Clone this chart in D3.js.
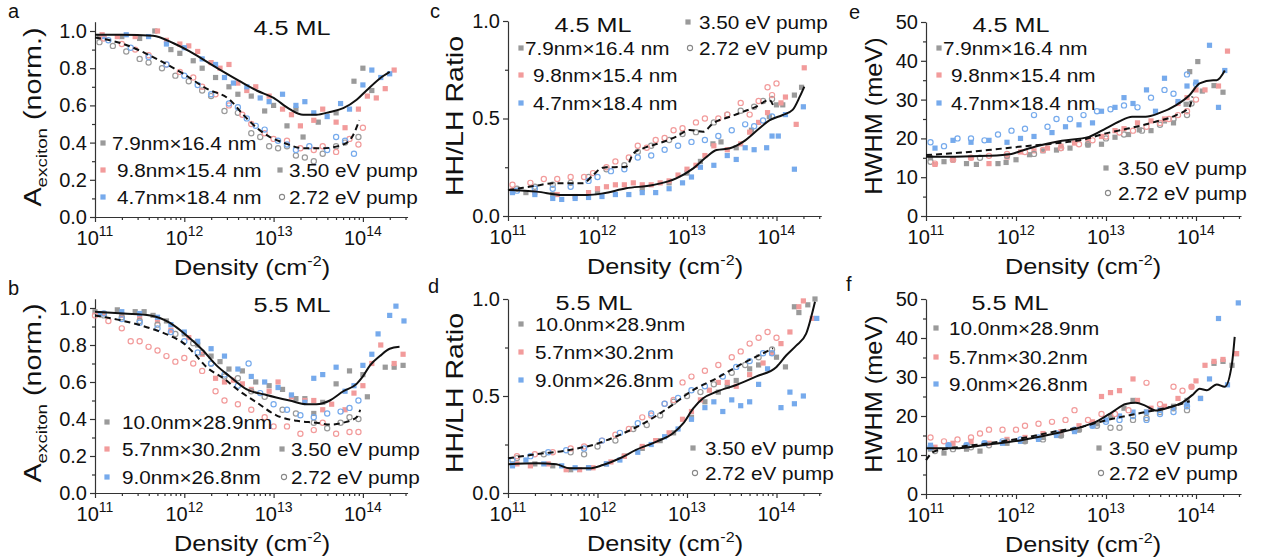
<!DOCTYPE html>
<html>
<head>
<meta charset="utf-8">
<script src="https://cdn.jsdelivr.net/npm/d3@7"></script>
<style>
  body { margin: 0; background: #fff; }
  svg { display: block; font-family: "Liberation Sans", Arial, sans-serif; }
</style>
</head>
<body>
<svg id="chart" width="1264" height="560"></svg>
<script>

// ---- a : 4.5 ML, A_exciton
const aGreySq = [[11.05,.97],[11.3,.97],[11.5,.96],[11.67,1.0],[11.85,.90],[11.95,.88],[12.1,.84],[12.2,.80],[12.35,.75],[12.5,.70],[12.6,.66],[12.75,.65],[12.9,.57],[13.0,.60],[13.15,.49],[13.25,.58],[13.33,.43],[13.5,.51],[13.7,.56],[13.9,.73],[14.0,.80],[14.1,.68]];
const aRedSq = [[11.08,.98],[11.25,.97],[11.45,.97],[11.7,1.0],[11.8,.95],[11.95,.93],[12.05,.92],[12.15,.89],[12.3,.83],[12.4,.80],[12.5,.82],[12.6,.72],[12.7,.68],[12.8,.70],[12.95,.65],[13.1,.58],[13.2,.55],[13.3,.49],[13.45,.52],[13.55,.58],[13.7,.51],[13.8,.48],[13.95,.58],[14.05,.65],[14.15,.64],[14.25,.69],[14.35,.79]];
const aBlueSq = [[11.1,.97],[11.35,.98],[11.6,.97],[11.8,.93],[12.0,.91],[12.2,.85],[12.35,.82],[12.45,.75],[12.55,.72],[12.7,.70],[12.85,.64],[12.95,.62],[13.1,.66],[13.25,.60],[13.35,.62],[13.45,.56],[13.6,.54],[13.75,.61],[13.85,.58],[14.0,.71],[14.1,.79],[14.2,.75],[14.3,.77]];
const aGreyCi = [[11.05,.94],[11.2,.92],[11.35,.89],[11.5,.85],[11.6,.83],[11.75,.80],[11.9,.76],[12.05,.73],[12.2,.68],[12.3,.65],[12.45,.57],[12.6,.56],[12.75,.45],[12.85,.43],[12.95,.38],[13.05,.37],[13.15,.38],[13.25,.33],[13.35,.32],[13.45,.30],[13.55,.34],[13.7,.38],[13.8,.40],[13.95,.43]];
const aRedCi = [[11.1,.96],[11.3,.93],[11.45,.90],[11.6,.87],[11.8,.82],[11.95,.78],[12.1,.75],[12.2,.70],[12.35,.66],[12.5,.60],[12.65,.55],[12.75,.50],[12.9,.45],[13.0,.42],[13.15,.41],[13.3,.37],[13.45,.36],[13.55,.38],[13.7,.35],[13.85,.42],[13.95,.39],[14.0,.48]];
const aBlueCi = [[11.15,.95],[11.4,.91],[11.6,.86],[11.8,.82],[12.0,.76],[12.15,.71],[12.3,.66],[12.5,.61],[12.6,.59],[12.7,.53],[12.8,.49],[12.9,.47],[13.05,.41],[13.15,.39],[13.25,.36],[13.4,.38],[13.6,.36],[13.7,.43],[13.8,.41],[13.9,.34]];
const aSolid = [[11,.98],[11.3,.98],[11.65,.975],[11.88,.934],[12.06,.89],[12.25,.835],[12.44,.78],[12.62,.73],[12.81,.68],[13.0,.64],[13.18,.58],[13.33,.55],[13.48,.55],[13.63,.565],[13.78,.585],[13.93,.63],[14.04,.68],[14.19,.745],[14.3,.78]];
const aDashed = [[11,.965],[11.32,.93],[11.69,.85],[11.99,.77],[12.25,.69],[12.51,.63],[12.66,.55],[12.81,.48],[12.96,.43],[13.11,.40],[13.33,.37],[13.56,.37],[13.78,.39],[13.89,.44],[13.96,.52]];

// ---- b : 5.5 ML, A_exciton
const bGreySq = [[11.0,.98],[11.25,.99],[11.45,.98],[11.55,.98],[11.65,.96],[11.8,.93],[12.0,.86],[12.15,.80],[12.3,.74],[12.4,.71],[12.5,.67],[12.65,.66],[12.8,.60],[12.95,.58],[13.1,.56],[13.25,.51],[13.35,.51],[13.45,.43],[13.55,.49],[13.7,.59],[13.85,.66],[14.0,.64],[14.05,.52],[14.25,.68],[14.35,.68],[14.45,.69]];
const bRedSq = [[11.1,.97],[11.3,.96],[11.5,.95],[11.7,.93],[11.85,.88],[12.05,.84],[12.2,.75],[12.35,.62],[12.45,.60],[12.55,.61],[12.65,.59],[12.75,.56],[12.95,.55],[13.05,.60],[13.2,.52],[13.35,.50],[13.45,.50],[13.55,.45],[13.65,.48],[13.8,.45],[13.9,.54],[14.0,.58],[14.1,.70],[14.2,.80],[14.35,.70],[14.45,.75]];
const bBlueSq = [[11.05,.97],[11.3,.98],[11.5,.97],[11.7,.95],[11.85,.91],[12.0,.87],[12.15,.82],[12.3,.78],[12.45,.74],[12.6,.67],[12.75,.63],[12.9,.60],[13.05,.57],[13.2,.53],[13.35,.49],[13.45,.62],[13.55,.64],[13.7,.68],[13.8,.55],[13.9,.58],[14.0,.69],[14.1,.75],[14.17,.86],[14.3,.96],[14.37,1.01],[14.46,.93]];
const bGreyCi = [[11.1,.96],[11.3,.95],[11.5,.93],[11.7,.91],[11.9,.86],[12.1,.81],[12.2,.76],[12.3,.70],[12.45,.63],[12.6,.62],[12.75,.55],[12.9,.52],[13.1,.45],[13.25,.43],[13.45,.38],[13.6,.35],[13.75,.38],[13.85,.41],[13.95,.40]];
const bRedCi = [[11.0,.96],[11.15,.93],[11.3,.89],[11.4,.82],[11.5,.82],[11.6,.79],[11.7,.77],[11.8,.74],[11.9,.71],[12.0,.73],[12.1,.70],[12.2,.66],[12.35,.55],[12.45,.50],[12.6,.48],[12.75,.45],[12.9,.41],[13.0,.36],[13.15,.36],[13.3,.32],[13.45,.34],[13.55,.38],[13.7,.32],[13.85,.33],[13.95,.33]];
const bBlueCi = [[11.1,.97],[11.3,.94],[11.5,.92],[11.7,.89],[11.85,.87],[12.0,.82],[12.15,.76],[12.3,.70],[12.45,.64],[12.6,.58],[12.72,.70],[12.85,.54],[13.0,.48],[13.15,.45],[13.3,.42],[13.45,.41],[13.6,.43],[13.75,.44],[13.85,.46],[13.95,.50]];
const bSolid = [[11,.98],[11.32,.97],[11.62,.96],[11.84,.92],[12.03,.85],[12.21,.77],[12.36,.69],[12.51,.63],[12.7,.56],[12.92,.53],[13.18,.50],[13.37,.48],[13.48,.48],[13.63,.50],[13.78,.55],[13.93,.59],[14.0,.63],[14.08,.69],[14.19,.74],[14.3,.78],[14.41,.79]];
const bDashed = [[11,.96],[11.32,.93],[11.62,.89],[11.84,.85],[11.99,.81],[12.1,.76],[12.25,.68],[12.44,.62],[12.62,.55],[12.81,.49],[13.03,.42],[13.26,.39],[13.48,.38],[13.63,.37],[13.78,.38],[13.93,.41],[13.97,.45]];

// ---- c : 4.5 ML, HH/LH ratio
const cGreySq = [[11.05,.13],[11.2,.12],[11.5,.11],[12.0,.12],[12.5,.14],[12.8,.17],[13.0,.22],[13.15,.28],[13.29,.37],[13.38,.38],[13.55,.35],[13.72,.44],[13.92,.51],[14.0,.57],[14.07,.57],[14.2,.62],[14.28,.66]];
const cRedSq = [[11.05,.13],[11.3,.12],[11.55,.11],[11.75,.10],[11.9,.12],[12.0,.14],[12.1,.15],[12.2,.16],[12.3,.16],[12.4,.17],[12.5,.16],[12.6,.16],[12.7,.17],[12.8,.18],[12.9,.21],[13.0,.24],[13.1,.26],[13.2,.31],[13.3,.36],[13.45,.34],[13.6,.37],[13.7,.43],[13.8,.48],[13.9,.53],[14.05,.58],[14.1,.61],[14.22,.47],[14.31,.76]];
const cBlueSq = [[11.05,.12],[11.3,.11],[11.5,.09],[11.6,.085],[11.75,.09],[11.9,.095],[12.05,.10],[12.2,.11],[12.35,.11],[12.5,.12],[12.65,.12],[12.8,.14],[12.95,.17],[13.05,.20],[13.15,.25],[13.3,.26],[13.45,.31],[13.55,.29],[13.65,.35],[13.75,.34],[13.89,.35],[13.95,.41],[14.02,.41],[14.1,.52],[14.2,.24],[14.3,.56]];
const cGreyCi = [[11.1,.14],[11.3,.15],[11.5,.16],[11.7,.17],[11.9,.20],[12.1,.24],[12.3,.26],[12.45,.33],[12.6,.36],[12.8,.39],[12.95,.42],[13.1,.43],[13.3,.48],[13.45,.52],[13.6,.54],[13.75,.56],[13.85,.59],[13.95,.60]];
const cRedCi = [[11.05,.16],[11.25,.17],[11.4,.19],[11.55,.19],[11.7,.20],[11.85,.20],[11.95,.22],[12.1,.25],[12.2,.28],[12.35,.30],[12.45,.36],[12.55,.35],[12.65,.39],[12.75,.40],[12.85,.44],[12.95,.45],[13.1,.48],[13.2,.50],[13.35,.50],[13.45,.52],[13.6,.58],[13.7,.52],[13.8,.59],[13.9,.66],[13.95,.62],[14.0,.68]];
const cBlueCi = [[11.1,.13],[11.3,.14],[11.5,.14],[11.7,.15],[11.9,.18],[12.0,.20],[12.15,.23],[12.3,.24],[12.45,.30],[12.6,.31],[12.75,.34],[12.9,.36],[13.05,.38],[13.2,.39],[13.35,.41],[13.5,.44],[13.65,.47],[13.75,.46],[13.85,.49],[13.95,.51]];
const cSolid = [[11.0,.133],[11.32,.125],[11.61,.108],[11.88,.108],[12.06,.116],[12.32,.142],[12.62,.159],[12.88,.193],[13.07,.244],[13.22,.304],[13.33,.338],[13.48,.347],[13.63,.381],[13.81,.45],[13.92,.49],[14.07,.518],[14.18,.544],[14.26,.612],[14.31,.663]];
const cDashed = [[11.0,.133],[11.17,.145],[11.32,.156],[11.5,.168],[11.84,.168],[11.95,.21],[12.06,.248],[12.32,.253],[12.4,.32],[12.51,.347],[12.69,.373],[12.88,.407],[13.03,.441],[13.18,.432],[13.29,.475],[13.48,.509],[13.63,.535],[13.77,.56],[13.92,.595],[13.96,.57]];

// ---- d : 5.5 ML, HH/LH ratio
const dGreySq = [[11.05,.15],[11.3,.15],[11.5,.14],[11.7,.12],[11.9,.13],[12.1,.15],[12.3,.19],[12.5,.23],[12.7,.27],[12.85,.31],[13.05,.39],[13.2,.47],[13.35,.52],[13.45,.55],[13.55,.58],[13.7,.64],[13.8,.66],[14.0,.70],[14.1,.65],[14.2,.96],[14.25,.93],[14.35,.97],[14.43,1.0]];
const dRedSq = [[11.1,.15],[11.25,.14],[11.45,.15],[11.65,.12],[11.8,.12],[11.95,.13],[12.15,.16],[12.3,.19],[12.5,.24],[12.65,.27],[12.8,.31],[12.95,.38],[13.05,.42],[13.15,.48],[13.25,.53],[13.35,.57],[13.45,.57],[13.55,.55],[13.7,.61],[13.85,.67],[13.95,.72],[14.05,.77],[14.15,.83],[14.25,.96],[14.3,.99],[14.4,.90]];
const dBlueSq = [[11.05,.14],[11.2,.17],[11.4,.15],[11.6,.14],[11.75,.13],[11.9,.13],[12.1,.15],[12.25,.17],[12.45,.21],[12.6,.25],[12.75,.29],[12.9,.33],[13.05,.38],[13.2,.44],[13.3,.47],[13.4,.42],[13.5,.48],[13.6,.45],[13.7,.47],[13.8,.56],[13.9,.64],[14.05,.44],[14.15,.52],[14.2,.46],[14.3,.50],[14.45,.90]];
const dGreyCi = [[11.1,.18],[11.4,.20],[11.7,.21],[11.85,.20],[12.0,.24],[12.2,.27],[12.4,.33],[12.55,.35],[12.7,.40],[12.85,.47],[13.0,.50],[13.15,.52],[13.3,.56],[13.5,.62],[13.65,.66],[13.8,.70],[13.95,.74]];
const dRedCi = [[11.1,.19],[11.3,.20],[11.5,.21],[11.7,.23],[11.85,.24],[12.05,.27],[12.2,.30],[12.35,.33],[12.5,.39],[12.6,.40],[12.75,.46],[12.85,.48],[12.95,.57],[13.05,.60],[13.2,.63],[13.35,.66],[13.5,.70],[13.6,.73],[13.7,.77],[13.8,.80],[13.9,.83],[14.0,.80]];
const dBlueCi = [[11.05,.17],[11.25,.19],[11.45,.21],[11.65,.22],[11.85,.23],[12.05,.27],[12.25,.31],[12.45,.36],[12.6,.41],[12.75,.46],[12.9,.49],[13.05,.53],[13.2,.55],[13.4,.60],[13.55,.65],[13.7,.68],[13.85,.72],[13.95,.72]];
const dSolid = [[11.0,.148],[11.32,.153],[11.54,.148],[11.69,.127],[11.91,.127],[12.06,.144],[12.25,.179],[12.43,.222],[12.66,.265],[12.84,.307],[12.96,.36],[13.07,.436],[13.18,.488],[13.33,.522],[13.55,.557],[13.77,.60],[14.0,.65],[14.11,.71],[14.22,.76],[14.33,.82],[14.43,.986]];
const dDashed = [[11.0,.179],[11.32,.20],[11.69,.222],[11.95,.248],[12.25,.30],[12.55,.368],[12.81,.445],[13.07,.531],[13.33,.591],[13.59,.66],[13.81,.711],[13.96,.746]];

// ---- e : 4.5 ML, HWHM
const eGreySq = [[11.05,15.0],[11.2,14.0],[11.45,13.5],[11.56,13.3],[11.8,13.5],[11.89,13.8],[12.0,14.5],[12.15,15.8],[12.3,16.8],[12.45,17.0],[12.6,17.5],[12.8,18.3],[12.95,18.5],[13.1,20.3],[13.25,21.0],[13.37,22.2],[13.5,22.0],[13.65,24.5],[13.75,24.0],[13.89,28.8],[13.93,37.2],[14.02,39.8],[14.07,32.2],[14.2,33.6],[14.3,31.9]];
const eRedSq = [[11.1,13.3],[11.3,14.5],[11.5,15.0],[11.7,13.5],[11.9,15.2],[12.05,16.5],[12.2,16.8],[12.35,17.5],[12.5,18.0],[12.65,18.8],[12.8,19.5],[12.95,20.5],[13.1,22.0],[13.2,22.5],[13.35,24.0],[13.5,24.5],[13.65,25.0],[13.8,29.0],[13.9,30.5],[14.0,32.5],[14.1,32.5],[14.25,33.5],[14.35,42.5]];
const eBlueSq = [[11.1,17.5],[11.3,19.5],[11.5,19.0],[11.7,19.5],[11.9,19.0],[12.05,20.0],[12.2,20.5],[12.4,21.5],[12.55,23.0],[12.7,23.5],[12.85,24.0],[12.95,27.0],[13.1,28.0],[13.2,30.5],[13.3,29.0],[13.45,32.5],[13.55,27.0],[13.65,35.5],[13.8,29.5],[13.9,33.5],[14.0,34.5],[14.15,44.0],[14.25,28.0],[14.32,37.5]];
const eGreyCi = [[11.05,14.0],[11.3,14.5],[11.6,15.0],[11.9,15.5],[12.2,16.0],[12.5,17.5],[12.8,18.5],[13.0,20.0],[13.2,21.0],[13.4,22.0],[13.6,23.5],[13.75,25.0],[13.9,26.0],[13.95,29.0]];
const eRedCi = [[11.1,13.5],[11.3,14.5],[11.5,15.0],[11.7,15.5],[11.9,16.0],[12.1,16.5],[12.3,17.0],[12.5,17.5],[12.7,18.5],[12.85,19.5],[13.0,20.5],[13.15,21.5],[13.3,22.0],[13.45,23.0],[13.6,24.0],[13.7,25.0],[13.8,26.0],[13.9,27.0],[14.0,30.0]];
const eBlueCi = [[11.05,19.0],[11.2,18.0],[11.35,20.0],[11.5,20.0],[11.65,19.5],[11.8,21.0],[11.95,22.0],[12.1,22.5],[12.2,26.0],[12.35,23.0],[12.45,25.0],[12.6,25.0],[12.75,26.0],[12.9,27.0],[13.05,27.5],[13.2,28.5],[13.35,28.0],[13.5,30.5],[13.65,32.5],[13.75,31.5],[13.9,36.5],[14.0,34.0]];
const eSolid = [[11.0,15.3],[11.32,15.3],[11.69,15.5],[11.95,16.0],[12.06,16.8],[12.25,18.1],[12.51,19.4],[12.81,20.4],[13.0,22.6],[13.14,24.3],[13.29,25.6],[13.44,25.6],[13.59,26.5],[13.78,28.6],[13.93,31.2],[14.04,34.2],[14.19,35.0],[14.23,35.0],[14.32,37.5]];
const eDashed = [[11.0,15.7],[11.32,16.2],[11.69,17.0],[12.06,17.9],[12.43,18.7],[12.73,19.6],[13.0,21.3],[13.26,22.6],[13.55,24.3],[13.78,26.0],[13.93,28.2],[13.96,30.8]];

// ---- f : 5.5 ML, HWHM
const fGreySq = [[11.05,11.5],[11.2,10.5],[11.45,11.5],[11.6,11.0],[11.9,13.0],[12.1,13.5],[12.3,14.5],[12.5,15.0],[12.7,16.5],[12.9,18.0],[13.05,20.0],[13.2,22.0],[13.3,24.0],[13.45,21.0],[13.6,21.5],[13.75,22.5],[13.9,24.0],[14.05,24.5],[14.2,33.5],[14.3,34.0],[14.4,33.0],[14.45,36.0]];
const fRedSq = [[11.1,12.0],[11.3,13.0],[11.5,13.5],[11.7,13.0],[11.9,14.0],[12.1,14.5],[12.3,15.5],[12.5,16.0],[12.7,17.5],[12.85,18.5],[12.95,25.0],[13.05,26.0],[13.15,26.5],[13.3,29.5],[13.35,24.0],[13.5,22.0],[13.65,22.5],[13.8,24.5],[13.95,27.5],[14.0,29.0],[14.1,33.0],[14.2,34.0],[14.3,34.5],[14.45,36.0]];
const fBlueSq = [[11.05,12.5],[11.25,12.5],[11.45,12.5],[11.65,13.0],[11.85,13.0],[12.05,13.5],[12.25,14.0],[12.45,15.0],[12.65,16.0],[12.85,17.5],[13.0,19.0],[13.15,20.0],[13.3,21.0],[13.45,21.0],[13.6,21.5],[13.75,22.0],[13.9,23.0],[14.05,24.5],[14.15,29.5],[14.25,45.0],[14.35,28.0],[14.47,49.0]];
const fGreyCi = [[11.1,11.0],[11.3,11.5],[11.5,12.0],[11.7,12.5],[11.9,13.5],[12.1,13.5],[12.3,14.0],[12.5,15.0],[12.7,16.5],[12.9,17.5],[13.05,17.0],[13.15,17.0],[13.3,19.0],[13.45,19.5],[13.6,21.0],[13.75,22.0],[13.9,21.5]];
const fRedCi = [[11.05,14.5],[11.2,13.5],[11.35,14.0],[11.5,14.5],[11.6,15.5],[11.7,16.5],[11.85,16.5],[12.0,16.5],[12.1,17.5],[12.25,18.0],[12.4,18.5],[12.55,19.0],[12.65,21.5],[12.8,19.0],[12.95,20.5],[13.1,20.5],[13.25,21.5],[13.45,28.5],[13.6,23.0],[13.75,27.5],[13.85,26.5],[13.95,27.5]];
const fBlueCi = [[11.05,12.0],[11.25,12.5],[11.45,12.5],[11.65,13.0],[11.85,13.5],[12.05,14.0],[12.25,14.5],[12.45,15.5],[12.65,16.5],[12.85,17.5],[13.0,18.5],[13.15,19.0],[13.3,20.0],[13.45,19.0],[13.6,20.5],[13.75,21.0],[13.9,22.5]];
const fSolid = [[11.0,11.7],[11.32,11.7],[11.69,12.7],[12.06,13.8],[12.43,15.5],[12.73,17.2],[12.92,18.9],[13.07,21.0],[13.22,23.1],[13.33,23.4],[13.44,22.6],[13.55,21.4],[13.7,22.2],[13.85,23.5],[13.97,25.6],[14.04,27.0],[14.12,26.6],[14.23,28.1],[14.32,27.5],[14.4,33.5],[14.43,40.3]];
const fDashed = [[11.0,8.7],[11.09,10.9],[11.32,11.9],[11.69,13.0],[12.06,14.3],[12.43,16.0],[12.73,17.2],[13.0,18.9],[13.26,20.2],[13.55,21.5],[13.78,22.7],[13.93,23.8]];

// legend texts
const samples45 = ["7.9nm\u00d716.4 nm", "9.8nm\u00d715.4 nm", "4.7nm\u00d718.4 nm"];
const samples55 = ["10.0nm\u00d728.9nm", "5.7nm\u00d730.2nm", "9.0nm\u00d726.8nm"];
const pumps = ["3.50 eV pump", "2.72 eV pump"];
const xMajor = [1e11, 1e12, 1e13, 1e14];

const grey = '#9a9a9a', red = '#f29b9b', blue = '#76aaec';
const colors = [grey, red, blue];

const svg = d3.select('#chart');
svg.append('rect').attr('width', 1264).attr('height', 560).attr('fill', '#fff');

// text that is a bit wider than Arial, like in the figure
const label = (g, x, y, size, sx, anchor, rot) => g.append('text')
  .attr('transform', `translate(${x},${y})` + (rot ? ` rotate(${rot})` : '') + ` scale(${sx},1)`)
  .attr('font-size', size)
  .attr('text-anchor', anchor || 'start')
  .attr('fill', '#111');

const drawPanel = (p) => {
  const x = d3.scaleLog().domain([1e11, Math.pow(10, 14.5)]).range([p.x0, p.x0 + 3.5 * p.dec]);
  const y = d3.scaleLinear().domain([0, p.yMax]).range([p.yBot, p.yBot - p.yMax * p.unit]);
  const g = svg.append('g');

  const xMinor = [];
  for (let e = 11; e <= 14; e++) for (let k = 2; k <= 9; k++) if (k * Math.pow(10, e) <= Math.pow(10, 14.5)) xMinor.push(k * Math.pow(10, e));

  const styleAxis = sel => {
    sel.selectAll('path,line').attr('stroke', '#333').attr('stroke-width', 1.2);
    sel.attr('font-family', null).attr('font-size', 20);
    sel.selectAll('text').attr('fill', '#111');
  };

  g.append('g').attr('transform', `translate(0,${p.yBot})`)
    .call(d3.axisBottom(x).tickValues(xMinor).tickSize(3).tickFormat(''))
    .call(styleAxis).select('.domain').remove();
  g.append('g').attr('transform', `translate(0,${p.yBot})`)
    .call(d3.axisBottom(x).tickValues(xMajor).tickSize(5).tickSizeOuter(0).tickFormat(''))
    .call(styleAxis);

  xMajor.forEach(v => {
    const t = g.append('text').attr('x', x(v)).attr('y', p.yBot + 28)
      .attr('text-anchor', 'middle').attr('font-size', 20).attr('fill', '#111');
    t.append('tspan').text('10');
    t.append('tspan').attr('dy', -9).attr('font-size', 14).text(Math.round(Math.log10(v)));
  });

  g.append('g').attr('transform', `translate(${p.x0},0)`)
    .call(d3.axisLeft(y).tickValues(p.yMinor).tickSize(3).tickFormat(''))
    .call(styleAxis).select('.domain').remove();
  g.append('g').attr('transform', `translate(${p.x0},0)`)
    .call(d3.axisLeft(y).tickValues(p.yMajor).tickSize(5).tickSizeOuter(0).tickFormat(p.fmt))
    .call(styleAxis)
    .selectAll('text').attr('x', -8);

  // axis titles
  const xt = label(g, p.x0 + 157, p.yBot + 58, 22, 1.15, 'middle');
  xt.append('tspan').text('Density (cm');
  xt.append('tspan').attr('dy', -9).attr('font-size', 14).text('-2');
  xt.append('tspan').attr('dy', 9).text(')');

  const yt = label(g, p.yTitleX, p.yBot - 100, 23, p.yTitleSx, 'middle', -90);
  if (p.exciton) {
    yt.append('tspan').text('A');
    yt.append('tspan').attr('dy', 6).attr('font-size', 15).text('exciton');
    yt.append('tspan').attr('dy', -6).text(' (norm.)');
  } else {
    yt.text(p.yTitle);
  }

  label(g, p.letter[0], p.letter[1], 20, 1, 'start').text(p.id);
  label(g, p.titleX, p.titleY, 21, 1.2, 'middle').text(p.title);

  // scatter: squares = 3.50 eV pump, open circles = 2.72 eV pump
  p.squares.forEach((arr, i) => {
    g.append('g').selectAll('rect').data(arr).join('rect')
      .attr('x', d => x(Math.pow(10, d[0])) - 2.6)
      .attr('y', d => y(d[1]) - 2.6)
      .attr('width', 5.2).attr('height', 5.2)
      .attr('fill', colors[i]);
  });
  p.circles.forEach((arr, i) => {
    g.append('g').selectAll('circle').data(arr).join('circle')
      .attr('cx', d => x(Math.pow(10, d[0])))
      .attr('cy', d => y(d[1]))
      .attr('r', 2.6)
      .attr('fill', 'none')
      .attr('stroke', colors[i])
      .attr('stroke-width', 1.2);
  });

  const line = d3.line()
    .x(d => x(Math.pow(10, d[0])))
    .y(d => y(d[1]))
    .curve(d3.curveMonotoneX);
  g.append('path').attr('d', line(p.solid)).attr('fill', 'none')
    .attr('stroke', '#111').attr('stroke-width', 2);
  g.append('path').attr('d', line(p.dashed)).attr('fill', 'none')
    .attr('stroke', '#111').attr('stroke-width', 2).attr('stroke-dasharray', '6,4');

  // legends
  p.samples.forEach((s, i) => {
    const [sx, sy, tx] = p.sampleLeg[i];
    g.append('rect').attr('x', sx - 2.6).attr('y', sy - 2.6).attr('width', 5.2).attr('height', 5.2).attr('fill', colors[i]);
    label(g, tx, sy + 6.5, 19, 1.09).text(s);
  });
  const [px, py, ptx] = p.pumpLeg;
  g.append('rect').attr('x', px - 2.6).attr('y', py - 2.6).attr('width', 5.2).attr('height', 5.2).attr('fill', grey);
  label(g, ptx, py + 6.5, 19, 1.09).text(pumps[0]);
  g.append('circle').attr('cx', px + 2).attr('cy', py + p.pumpGap).attr('r', 2.6)
    .attr('fill', 'none').attr('stroke', '#888').attr('stroke-width', 1.1);
  label(g, ptx, py + p.pumpGap + 6.5, 19, 1.09).text(pumps[1]);
};

const fmt1 = d3.format('.1f');
const fmt0 = d3.format('d');
const ticksA = { yMax: 1.05, yMajor: [0, .2, .4, .6, .8, 1.0], yMinor: [.1, .3, .5, .7, .9], fmt: fmt1, exciton: true, yTitleSx: 1.25 };
const ticksR = { yMax: 1.0, yMajor: [0, .5, 1.0], yMinor: [.25, .75], fmt: fmt1, yTitle: 'HH/LH Ratio', yTitleSx: 1.24 };
const ticksW = { yMax: 50, yMajor: [0, 10, 20, 30, 40, 50], yMinor: [5, 15, 25, 35, 45], fmt: fmt0, yTitle: 'HWHM (meV)', yTitleSx: 1.1 };

const panels = [
  Object.assign({ id: 'a', x0: 95, dec: 89.3, yBot: 217, unit: 186, yTitleX: 41, letter: [8, 18], title: '4.5 ML', titleX: 292, titleY: 35,
    squares: [aGreySq, aRedSq, aBlueSq], circles: [aGreyCi, aRedCi, aBlueCi], solid: aSolid, dashed: aDashed,
    samples: samples45, sampleLeg: [[103, 143, 112], [103, 170, 117], [103, 197, 117]], pumpLeg: [280, 170, 289], pumpGap: 27 }, ticksA),
  Object.assign({ id: 'b', x0: 95, dec: 89.3, yBot: 493, unit: 185, yTitleX: 41, letter: [8, 295], title: '5.5 ML', titleX: 292, titleY: 312,
    squares: [bGreySq, bRedSq, bBlueSq], circles: [bGreyCi, bRedCi, bBlueCi], solid: bSolid, dashed: bDashed,
    samples: samples55, sampleLeg: [[107, 422, 122], [107, 449, 122], [107, 477, 122]], pumpLeg: [282, 449, 291], pumpGap: 28 }, ticksA),
  Object.assign({ id: 'c', x0: 508, dec: 89.5, yBot: 216, unit: 195, yTitleX: 463, letter: [430, 18], title: '4.5 ML', titleX: 593, titleY: 32,
    squares: [cGreySq, cRedSq, cBlueSq], circles: [cGreyCi, cRedCi, cBlueCi], solid: cSolid, dashed: cDashed,
    samples: samples45, sampleLeg: [[521, 48, 525], [521, 75, 533], [521, 103, 533]], pumpLeg: [688, 22, 699], pumpGap: 26 }, ticksR),
  Object.assign({ id: 'd', x0: 508, dec: 89.5, yBot: 493, unit: 194, yTitleX: 463, letter: [428, 293], title: '5.5 ML', titleX: 594, titleY: 310,
    squares: [dGreySq, dRedSq, dBlueSq], circles: [dGreyCi, dRedCi, dBlueCi], solid: dSolid, dashed: dDashed,
    samples: samples55, sampleLeg: [[521, 324, 535], [521, 352, 535], [521, 380, 535]], pumpLeg: [693, 448, 705], pumpGap: 25 }, ticksR),
  Object.assign({ id: 'e', x0: 926, dec: 90, yBot: 216, unit: 3.88, yTitleX: 882, letter: [849, 19], title: '4.5 ML', titleX: 1011, titleY: 32,
    squares: [eGreySq, eRedSq, eBlueSq], circles: [eGreyCi, eRedCi, eBlueCi], solid: eSolid, dashed: eDashed,
    samples: samples45, sampleLeg: [[939, 48, 943], [939, 75, 951], [939, 103, 951]], pumpLeg: [1106, 168, 1118], pumpGap: 25 }, ticksW),
  Object.assign({ id: 'f', x0: 926, dec: 90, yBot: 494, unit: 3.9, yTitleX: 882, letter: [846, 291], title: '5.5 ML', titleX: 1010, titleY: 310,
    squares: [fGreySq, fRedSq, fBlueSq], circles: [fGreyCi, fRedCi, fBlueCi], solid: fSolid, dashed: fDashed,
    samples: samples55, sampleLeg: [[936, 328, 949], [936, 357, 949], [936, 384, 949]], pumpLeg: [1099, 448, 1109], pumpGap: 25 }, ticksW)
];

panels.forEach(drawPanel);
</script>
</body>
</html>
